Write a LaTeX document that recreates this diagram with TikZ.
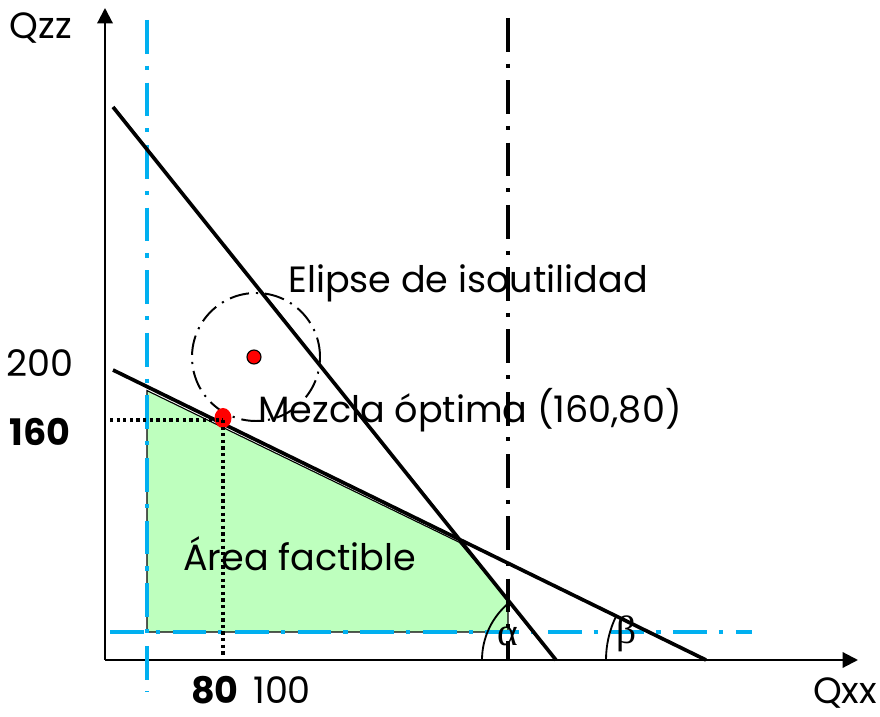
\documentclass[tikz,border=0pt]{standalone}
\usepackage{fontspec}
\setmainfont{Poppins}
\newfontfamily\griega{Liberation Serif}
\usetikzlibrary{positioning,arrows.meta,calc}
\definecolor{azul}{RGB}{0,176,240}
\definecolor{verde}{RGB}{190,255,190}
\definecolor{rojo}{RGB}{255,0,0}

\begin{document}
\begin{tikzpicture}[
    x=0.025cm, y=0.025cm,
    eje/.style={line width=1.5pt, -{Triangle[length=11pt,width=11pt]}},
    recta/.style={line width=2.6pt},
    guia/.style={
        line width=3pt,
        azul,
        dash pattern=on 24pt off 8.5pt on 3pt off 9pt
    },
    limite/.style={
        line width=2.8pt,
        dash pattern=on 24pt off 8.5pt on 2.8pt off 9pt
    },
    punteada/.style={line width=2.3pt, dash pattern=on 2.3pt off 2.4pt},
    isoutil/.style={line width=1.4pt, dash pattern=on 14pt off 5pt on 1.5pt off 5pt},
    angulo/.style={line width=1.3pt},
    texto/.style={font=\fontsize{26}{31}\selectfont, inner sep=0pt},
    griego/.style={font=\griega\fontsize{28}{32}\selectfont, inner sep=0pt},
    >=Latex
]
\useasboundingbox (0,0) rectangle (880,716);

% puntos de referencia
\coordinate (origen) at (105,56);
\coordinate (topeY) at (105,708);
\coordinate (topeX) at (858,56);
\coordinate (r1a) at (113,609);
\coordinate (r1b) at (556,56);
\coordinate (r2a) at (113,346);
\coordinate (r2b) at (706,56);
\coordinate (az1) at (147,24);
\coordinate (az2) at (147,696);
\coordinate (az3) at (110,84);
\coordinate (az4) at (752,84);
\coordinate (lim1) at (508,56);
\coordinate (lim2) at (508,698);
\coordinate (corte) at (intersection of r1a--r1b and r2a--r2b);
\coordinate (vA) at (intersection of r2a--r2b and az1--az2);
\coordinate (vC) at (intersection of r1a--r1b and lim1--lim2);
\coordinate (vD) at (508,84);
\coordinate (vE) at (147,84);
\coordinate (centro) at (256,359);
\coordinate (optimo) at (223,298);

% area factible
\fill[verde, draw=black, line width=0.8pt]
    (vE) -- ($(vA)+(0,-4)$) -- ($(corte)+(0,-3)$) -- (vC) -- (vD) -- cycle;

% ejes
\draw[eje] (origen) -- (topeY);
\draw[eje] (origen) -- (topeX);

% restricciones
\draw[guia] (az2) -- (az1);
\draw[guia] (az3) -- (az4);
\draw[limite] (lim2) -- (lim1);
\draw[recta] (r1a) -- (r1b);
\draw[recta] (r2a) -- (r2b);

% elipse y puntos
\draw[isoutil] (centro) circle[radius=64];
\draw[fill=rojo, line width=0.8pt] (254,359) circle[radius=7];
\fill[rojo] (optimo) ellipse[x radius=8.5, y radius=10];
\draw[punteada] (110,296) -- (223,296);
\draw[punteada] (223,296) -- (223,61);

% angulos
\draw[angulo] (r1b) ++(180:74) arc[start angle=180, end angle=128.7, radius=74];
\draw[angulo] (r2b) ++(180:100) arc[start angle=180, end angle=153.9, radius=100];
\node[griego, anchor=base] (alfa) at (508,70) {α};
\node[griego, anchor=base] (beta) at (627,72) {β};

% textos
\node[texto] (qzz) at (41,688) {Qzz};
\node[texto] (qxx) at (845,23) {Qxx};
\node[texto] (doscientos) at (40,353) {200};
\node[texto, font=\fontsize{26}{31}\selectfont\bfseries] (cientosesenta) at (40,284) {160};
\node[texto, font=\fontsize{26}{31}\selectfont\bfseries] (ochenta) at (215,26) {80};
\node[texto, right=0.35cm of ochenta] (cien) {100};
\node[texto, anchor=west] (elipse) at (288,433) {Elipse de isoutilidad};
\node[texto, anchor=west] (mezcla) at (258,306) {Mezcla óptima (160,80)};
\node[texto, anchor=west] (area) at (183,162) {Área factible};

\end{tikzpicture}
\end{document}
